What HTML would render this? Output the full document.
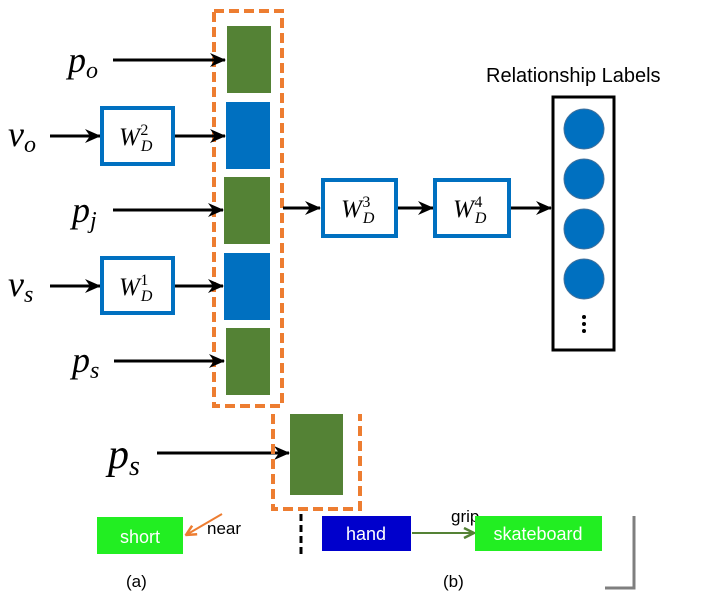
<!DOCTYPE html>
<html><head><meta charset="utf-8"><style>
html,body{margin:0;padding:0;background:#fff;}
svg{display:block}
.m{font-family:"Liberation Serif",serif;font-style:italic;}
.s{font-family:"Liberation Sans",sans-serif;}
</style></head><body>
<svg width="707" height="595" viewBox="0 0 707 595" xmlns="http://www.w3.org/2000/svg">
<defs>
<marker id="a" markerWidth="16" markerHeight="16" refX="15" refY="8" orient="auto" markerUnits="userSpaceOnUse" viewBox="0 0 16 16">
<path d="M0,1 L16,8 L0,15 L5,8 Z" fill="#000"/></marker>
<marker id="ao" markerWidth="12" markerHeight="12" refX="11" refY="6" orient="auto" markerUnits="userSpaceOnUse" viewBox="0 0 12 12">
<path d="M1,1 L11,6 L1,11" fill="none" stroke="#ed7d31" stroke-width="2.5"/></marker>
<marker id="ag" markerWidth="12" markerHeight="12" refX="11" refY="6" orient="auto" markerUnits="userSpaceOnUse" viewBox="0 0 12 12">
<path d="M1,1 L11,6 L1,11" fill="none" stroke="#548235" stroke-width="2.5"/></marker>
</defs>
<rect x="214" y="11" width="68" height="395" fill="none" stroke="#ed7d31" stroke-width="4" stroke-dasharray="10,5"/>
<rect x="227" y="26" width="44" height="67" fill="#548235"/>
<rect x="226" y="102" width="44" height="67" fill="#0070c0"/>
<rect x="224" y="177" width="46" height="67" fill="#548235"/>
<rect x="224" y="253" width="46" height="67" fill="#0070c0"/>
<rect x="226" y="328" width="44" height="67" fill="#548235"/>
<text class="m" x="68" y="72" font-size="36">p<tspan font-size="24" dy="6">o</tspan></text>
<text class="m" x="8" y="146" font-size="36">v<tspan font-size="24" dy="6">o</tspan></text>
<text class="m" x="72" y="222" font-size="36">p<tspan font-size="24" dy="6">j</tspan></text>
<text class="m" x="8" y="296" font-size="36">v<tspan font-size="24" dy="6">s</tspan></text>
<text class="m" x="72" y="372" font-size="36">p<tspan font-size="24" dy="6">s</tspan></text>
<g stroke="#000" stroke-width="3" fill="none">
<line x1="113" y1="60" x2="225" y2="60" marker-end="url(#a)"/>
<line x1="50" y1="136" x2="100" y2="136" marker-end="url(#a)"/>
<line x1="173" y1="136" x2="225" y2="136" marker-end="url(#a)"/>
<line x1="113" y1="210" x2="223" y2="210" marker-end="url(#a)"/>
<line x1="50" y1="286" x2="100" y2="286" marker-end="url(#a)"/>
<line x1="173" y1="286" x2="223" y2="286" marker-end="url(#a)"/>
<line x1="114" y1="361" x2="224" y2="361" marker-end="url(#a)"/>
<line x1="283" y1="208" x2="320" y2="208" marker-end="url(#a)"/>
<line x1="396" y1="208" x2="433" y2="208" marker-end="url(#a)"/>
<line x1="509" y1="208" x2="551" y2="208" marker-end="url(#a)"/>
<line x1="157" y1="453" x2="289" y2="453" marker-end="url(#a)"/>
</g>
<g fill="#fff" stroke="#0070c0" stroke-width="4">
<rect x="102" y="108" width="71" height="56"/>
<rect x="102" y="258" width="71" height="55"/>
<rect x="323" y="180" width="73" height="56"/>
<rect x="435" y="180" width="74" height="56"/>
</g>
<text class="m" x="119" y="145" font-size="25">W<tspan font-size="16" dx="1" dy="6">D</tspan><tspan font-size="16" font-style="normal" dx="-12" dy="-16">2</tspan></text>
<text class="m" x="119" y="295" font-size="25">W<tspan font-size="16" dx="1" dy="6">D</tspan><tspan font-size="16" font-style="normal" dx="-12" dy="-16">1</tspan></text>
<text class="m" x="341" y="217" font-size="25">W<tspan font-size="16" dx="1" dy="6">D</tspan><tspan font-size="16" font-style="normal" dx="-12" dy="-16">3</tspan></text>
<text class="m" x="453" y="217" font-size="25">W<tspan font-size="16" dx="1" dy="6">D</tspan><tspan font-size="16" font-style="normal" dx="-12" dy="-16">4</tspan></text>
<text class="s" x="486" y="82" font-size="20">Relationship Labels</text>
<rect x="553" y="97" width="61" height="253" fill="#fff" stroke="#000" stroke-width="3"/>
<g fill="#0070c0" stroke="#41719c" stroke-width="1">
<circle cx="584" cy="129" r="20"/><circle cx="584" cy="179" r="20"/>
<circle cx="584" cy="229" r="20"/><circle cx="584" cy="279" r="20"/>
</g>
<g fill="#000"><circle cx="584" cy="317" r="2"/><circle cx="584" cy="324" r="2"/><circle cx="584" cy="331" r="2"/></g>
<path d="M273,414 L273,509 L360,509 L360,414" fill="none" stroke="#ed7d31" stroke-width="4" stroke-dasharray="10,5"/>
<rect x="290" y="414" width="53" height="81" fill="#548235"/>
<text class="m" x="108" y="468" font-size="42">p<tspan font-size="28" dy="7">s</tspan></text>
<rect x="97" y="517" width="86" height="37" fill="#22ee22"/>
<text class="s" x="140" y="543" font-size="18" fill="#fff" text-anchor="middle">short</text>
<line x1="222" y1="514" x2="186" y2="535" stroke="#ed7d31" stroke-width="2" marker-end="url(#ao)"/>
<text class="s" x="207" y="534" font-size="17">near</text>
<line x1="301" y1="514" x2="301" y2="555" stroke="#000" stroke-width="3" stroke-dasharray="7,4"/>
<rect x="322" y="516" width="89" height="35" fill="#0000cc"/>
<text class="s" x="366" y="540" font-size="18" fill="#fff" text-anchor="middle">hand</text>
<line x1="412" y1="533" x2="474" y2="533" stroke="#548235" stroke-width="2" marker-end="url(#ag)"/>
<text class="s" x="451" y="522" font-size="17">grip</text>
<rect x="475" y="516" width="127" height="35" fill="#22ee22"/>
<text class="s" x="538" y="540" font-size="18" fill="#fff" text-anchor="middle">skateboard</text>
<text class="s" x="126" y="587" font-size="17">(a)</text>
<text class="s" x="443" y="587" font-size="17">(b)</text>
<path d="M634,516 L634,588 L605,588" fill="none" stroke="#7f7f7f" stroke-width="3"/>
</svg>
</body></html>
